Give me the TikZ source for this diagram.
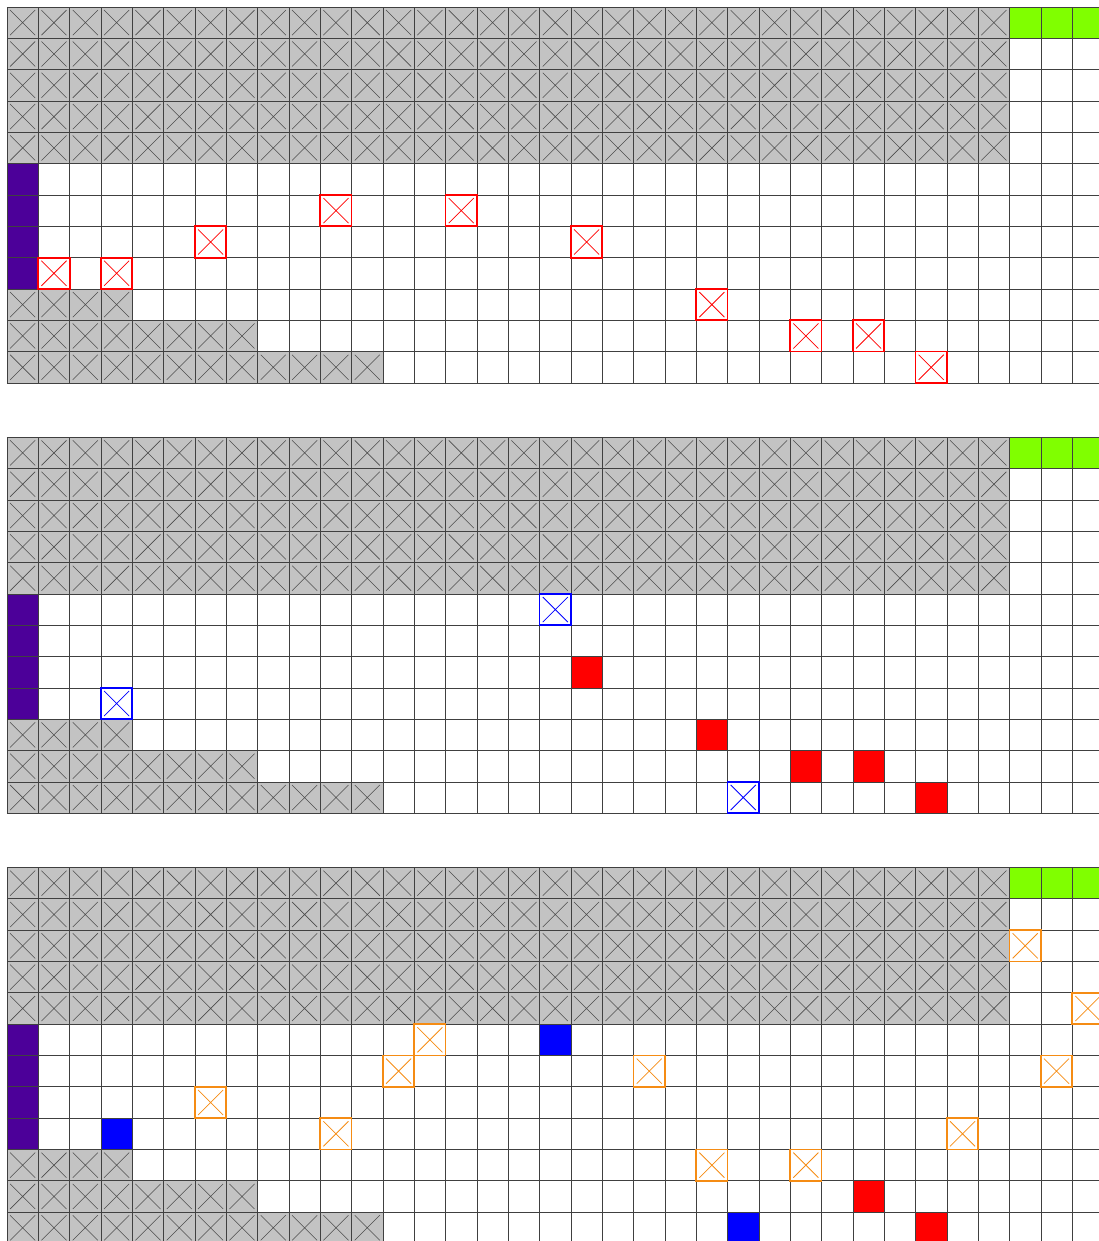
\documentclass[tikz,border=0pt]{standalone}
\usepackage{tikz}

\definecolor{wallgray}{RGB}{195,195,195}
\definecolor{startpurple}{RGB}{76,0,153}
\definecolor{goalgreen}{RGB}{128,255,0}
\definecolor{seenorange}{RGB}{245,140,20}

% square in column #1, row #2 (rows counted downwards)
\newcommand{\fillcell}[3]{\fill[#3] (#1,-#2) rectangle ++(1,-1);}
\newcommand{\crosscell}[3]{%
  \draw[#3] (#1+0.1,-#2-0.1) -- (#1+0.9,-#2-0.9)
            (#1+0.9,-#2-0.1) -- (#1+0.1,-#2-0.9);}
\newcommand{\markcell}[3]{%
  \draw[#3, line width=1.6pt] (#1,-#2) rectangle ++(1,-1);
  \crosscell{#1}{#2}{#3, line width=0.7pt}}

% walls, start column and goal row
\newcommand{\board}{%
  \foreach \r/\n in {0/31,1/31,2/31,3/31,4/31,9/3,10/7,11/11}
    \foreach \c in {0,...,\n} {
      \fillcell{\c}{\r}{wallgray}
      \crosscell{\c}{\r}{black!70, line width=0.5pt}
    }
  \foreach \r in {5,...,8} {\fillcell{0}{\r}{startpurple}}
  \foreach \c in {32,33,34} {\fillcell{\c}{0}{goalgreen}}
}
\newcommand{\gridlines}{\draw[black!75, line width=0.6pt] (0,0) grid (35,-12);}

\begin{document}
\begin{tikzpicture}

  \useasboundingbox (-0.223,0.223) rectangle (34.825,-39.388);

  % First board
  \begin{scope}
    \board
    \gridlines
    \foreach \c/\r in {10/6,14/6,6/7,18/7,1/8,3/8,22/9,25/10,27/10,29/11}
      {\markcell{\c}{\r}{red}}
  \end{scope}

  % Second board
  \begin{scope}[yshift=-13.733cm]
    \board
    \foreach \c/\r in {18/7,22/9,25/10,27/10,29/11} {\fillcell{\c}{\r}{red}}
    \gridlines
    \foreach \c/\r in {17/5,3/8,23/11} {\markcell{\c}{\r}{blue}}
  \end{scope}

  % Third board
  \begin{scope}[yshift=-27.466cm]
    \board
    \foreach \c/\r in {17/5,3/8,23/11} {\fillcell{\c}{\r}{blue}}
    \foreach \c/\r in {27/10,29/11} {\fillcell{\c}{\r}{red}}
    \gridlines
    \foreach \c/\r in {32/2,34/4,13/5,12/6,20/6,33/6,6/7,10/8,30/8,22/9,25/9}
      {\markcell{\c}{\r}{seenorange}}
  \end{scope}

\end{tikzpicture}
\end{document}
